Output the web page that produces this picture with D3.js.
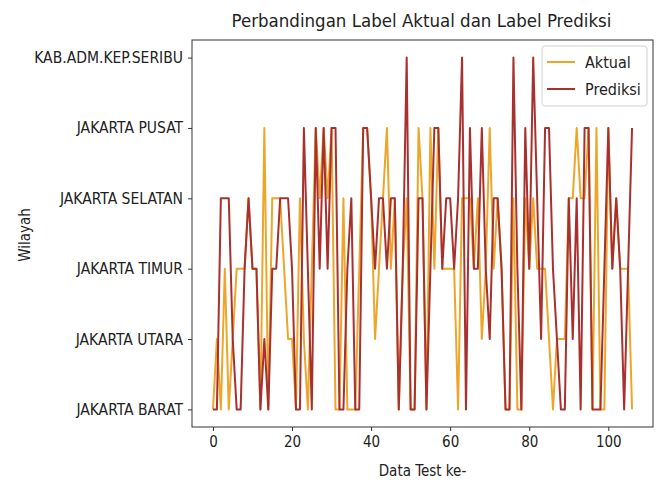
<!DOCTYPE html>
<html>
<head>
<meta charset="utf-8">
<script src="https://cdn.jsdelivr.net/npm/d3@7"></script>
<style>
  html, body { margin: 0; padding: 0; background: #fff; }
  svg { display: block; }
  text { font-family: "DejaVu Sans Condensed", "DejaVu Sans", sans-serif; fill: #222; }
</style>
</head>
<body>
<svg id="chart" width="657" height="483"></svg>
<script>
// Region categories, bottom to top on the y axis
const categories = [
  "JAKARTA BARAT",
  "JAKARTA UTARA",
  "JAKARTA TIMUR",
  "JAKARTA SELATAN",
  "JAKARTA PUSAT",
  "KAB.ADM.KEP.SERIBU"
];

// Actual labels per test sample (index into categories)
const aktual = [
  0,1,0,2,0,1,2,2,2,3, 2,2,0,4,0,3,3,3,2,1,
  1,0,3,1,0,2,4,3,4,3, 4,0,0,3,0,0,0,2,4,4,
  3,1,2,3,4,2,3,0,2,3, 0,0,4,3,0,4,2,4,2,2,
  2,2,0,3,3,3,2,3,1,2, 4,2,3,2,0,0,3,0,0,3,
  2,3,2,2,2,1,0,1,1,1, 3,3,4,3,3,4,0,4,0,0,
  4,2,3,2,2,2,0
];

// Predicted labels per test sample (index into categories)
const prediksi = [
  0,0,3,3,3,1,0,0,2,3, 2,2,0,1,0,2,2,3,3,3,
  2,0,0,4,2,0,4,2,4,2, 4,4,0,0,2,3,0,0,4,4,
  3,2,3,3,2,3,3,0,2,5, 0,0,3,3,0,2,4,4,2,3,
  3,2,3,5,0,4,2,2,4,2, 1,3,3,2,0,0,5,2,0,4,
  2,5,3,1,4,4,2,1,0,0, 3,1,3,0,4,4,0,0,0,2,
  4,2,3,2,0,2,4
];

const xTicks = [0, 20, 40, 60, 80, 100];
const seriesNames = ["Aktual", "Prediksi"];
const seriesColors = ["#eea62a", "#a8302f"];

const svg = d3.select("#chart");
const margin = { left: 192, right: 4, top: 40, bottom: 56 };
const W = 657, H = 483;
const n = aktual.length;

// matplotlib-style 5% padding on both axes
const xPad = (n - 1) * 0.05;
const x = d3.scaleLinear()
  .domain([-xPad, n - 1 + xPad])
  .range([margin.left, W - margin.right]);
const y = d3.scaleLinear()
  .domain([-0.25, categories.length - 1 + 0.25])
  .range([H - margin.bottom, margin.top]);

// Series lines
const line = d3.line().x((d, i) => x(i)).y(d => y(d));
[aktual, prediksi].forEach((s, k) => {
  svg.append("path")
    .datum(s)
    .attr("fill", "none")
    .attr("stroke", seriesColors[k])
    .attr("stroke-width", 2)
    .attr("stroke-linejoin", "round")
    .attr("d", line);
});

// Frame
svg.append("rect")
  .attr("x", margin.left).attr("y", margin.top)
  .attr("width", W - margin.right - margin.left)
  .attr("height", H - margin.bottom - margin.top)
  .attr("fill", "none").attr("stroke", "#333").attr("stroke-width", 1);

// X axis
const xAxis = svg.append("g")
  .attr("transform", `translate(0,${H - margin.bottom})`)
  .call(d3.axisBottom(x).tickValues(xTicks).tickFormat(d3.format("d")).tickSize(4).tickPadding(5));
xAxis.select(".domain").remove();
xAxis.selectAll("text").style("font-size", "15px").style("font-family", null);
xAxis.selectAll("line").attr("stroke", "#333");

// Y axis
const yAxis = svg.append("g")
  .attr("transform", `translate(${margin.left},0)`)
  .call(d3.axisLeft(y).tickValues(d3.range(categories.length))
    .tickFormat(i => categories[i]).tickSize(4).tickPadding(5));
yAxis.select(".domain").remove();
yAxis.selectAll("text").style("font-size", "15.5px").style("font-family", null);
yAxis.selectAll("line").attr("stroke", "#333");

// Title and axis labels
svg.append("text")
  .attr("x", (margin.left + W - margin.right) / 2 - 1)
  .attr("y", 27)
  .attr("text-anchor", "middle")
  .style("font-size", "18.5px")
  .text("Perbandingan Label Aktual dan Label Prediksi");

svg.append("text")
  .attr("x", (margin.left + W - margin.right) / 2)
  .attr("y", 476)
  .attr("text-anchor", "middle")
  .style("font-size", "15px")
  .text("Data Test ke-");

svg.append("text")
  .attr("transform", `translate(30,235) rotate(-90)`)
  .attr("text-anchor", "middle")
  .style("font-size", "15px")
  .text("Wilayah");

// Legend
const lg = svg.append("g").attr("transform", "translate(542,46)");
lg.append("rect")
  .attr("width", 105).attr("height", 60).attr("rx", 3)
  .attr("fill", "#fff").attr("fill-opacity", 0.85)
  .attr("stroke", "#d0d0d0");
seriesNames.forEach((name, k) => {
  const yy = 16 + k * 27;
  lg.append("line")
    .attr("x1", 5).attr("x2", 33).attr("y1", yy).attr("y2", yy)
    .attr("stroke", seriesColors[k]).attr("stroke-width", 2);
  lg.append("text")
    .attr("x", 43).attr("y", yy + 5.5)
    .style("font-size", "16px")
    .text(name);
});
</script>
</body>
</html>
